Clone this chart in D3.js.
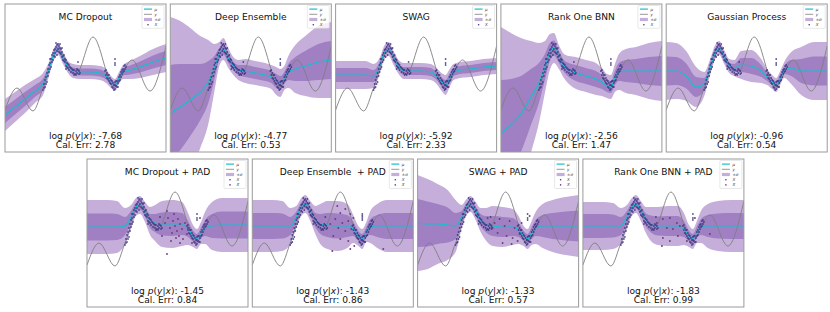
<!DOCTYPE html>
<html>
<head>
<meta charset="utf-8">
<script src="https://cdn.jsdelivr.net/npm/d3@7"></script>
<style>
  body { margin: 0; background: #fff; }
  text { font-family: "DejaVu Sans", sans-serif; white-space: pre; }
</style>
</head>
<body>
<div id="chart"></div>
<script>
'use strict';

// panel titles and metrics
const titles = ['MC Dropout', 'Deep Ensemble', 'SWAG', 'Rank One BNN', 'Gaussian Process',
  'MC Dropout + PAD', 'Deep Ensemble  + PAD', 'SWAG + PAD', 'Rank One BNN + PAD'];
const logLik = [-7.68, -4.77, -5.92, -2.56, -0.96, -1.45, -1.43, -1.33, -1.83];
const calErr = [2.78, 0.53, 2.33, 1.47, 0.54, 0.84, 0.86, 0.57, 0.99];

// true function y(x)
const trueX = [0, 1.2, 2.8, 3.8, 5.3, 7.1, 8.8, 10.9, 12.7, 14.5, 16.1];
const trueY = [-3.2, -1.0, -3.3, -1.0, 2.8, 0.4, 4.1, -0.9, 1.8, -1.3, 3.2];

// training data X
const obs = [
  [3.8,-1.2],[3.9,-0.6],[4.0,-0.9],[4.0,-0.2],[4.1,0.1],[4.2,-0.4],[4.2,0.5],[4.3,0.9],[4.4,0.6],[4.4,1.3],
  [4.5,1.5],[4.6,1.1],[4.6,1.9],[4.7,2.3],[4.8,1.8],[4.8,2.5],[4.9,2.2],[5.0,2.9],[5.0,2.5],[5.1,3.1],
  [5.2,2.7],[5.2,3.3],[5.3,2.9],[5.4,3.2],[5.4,2.6],[5.5,3.0],[5.6,2.4],[5.6,2.9],[5.7,2.6],[5.8,2.2],
  [5.8,1.8],[5.9,2.3],[6.0,1.6],[6.0,1.9],[6.1,1.2],[6.2,1.5],[6.3,1.0],[6.3,1.4],[6.4,0.8],[6.5,1.1],
  [6.6,0.6],[6.7,0.9],[6.8,0.5],[6.9,0.8],[7.0,0.4],[7.1,0.7],[7.2,0.5],[7.3,0.8],[7.4,0.4],[7.3,1.6],
  [3.9,-1.0],[4.1,-0.6],[4.3,0.2],[4.5,0.9],[4.5,1.9],[4.7,1.6],[4.9,2.8],[5.0,2.1],[5.1,3.5],[5.2,2.3],
  [5.3,3.4],[5.5,2.5],[5.5,3.4],[5.7,2.1],[5.7,3.0],[5.9,1.7],[6.1,1.8],[6.1,0.9],[6.2,1.1],[6.4,1.3],
  [6.6,1.0],[6.8,0.8],[6.9,0.3],[7.1,0.3],[7.2,0.9],[7.4,0.7],[7.5,0.5],
  [10.0,0.7],[10.1,0.3],[10.2,0.5],[10.3,-0.1],[10.3,0.3],[10.4,-0.3],[10.5,0.0],[10.6,-0.6],[10.6,-0.2],[10.7,-0.9],
  [10.8,-0.5],[10.8,-1.0],[10.9,-0.7],[11.0,-0.4],[11.0,-1.1],[11.1,-0.8],[11.2,-0.3],[11.2,-0.9],[11.3,-0.5],[11.4,0.1],
  [11.4,-0.3],[11.5,0.3],[11.6,0.1],[11.6,0.6],[11.7,0.4],[11.8,0.9],[11.8,0.6],[11.9,1.2],[12.0,0.9],[12.0,1.3],
  [10.1,0.8],[10.2,0.0],[10.4,0.3],[10.5,-0.5],[10.7,-0.3],[10.9,-1.2],[11.0,-0.7],[11.1,-0.3],[11.3,-0.9],[11.5,-0.2],
  [11.7,0.8],[11.9,0.7],[12.1,1.1],
  [11.0,1.5],[11.0,1.3],[11.0,1.9]
];

// x grid for predictive mean / std
const gridX = [0, 1.0, 2.0, 3.0, 3.8, 4.4, 4.9, 5.3, 5.8, 6.3, 6.8, 7.5, 8.5, 9.5, 10.1, 10.6, 11.0, 11.4, 11.8, 12.5, 13.5, 14.8, 16.1];

const meanMC = [-3.7,-2.9,-2.1,-1.3,-0.6,0.9,2.4,2.9,2.0,1.1,0.7,0.6,0.6,0.5,0.2,-0.4,-0.7,0.0,0.6,0.8,1.1,1.6,2.0];
const sdMC   = [0.8,0.75,0.7,0.6,0.55,0.35,0.3,0.3,0.3,0.3,0.35,0.35,0.35,0.35,0.35,0.3,0.3,0.3,0.35,0.45,0.55,0.65,0.7];
const meanDE = [-3.5,-2.9,-2.2,-1.4,-0.4,1.0,2.4,2.9,2.0,1.2,0.8,0.7,0.5,0.3,0.1,-0.3,-0.5,0.0,0.6,0.9,1.2,1.6,1.8];
const sdDE   = [4.8,4.3,3.6,2.8,2.1,1.2,0.6,0.55,0.5,0.45,0.5,0.6,0.6,0.6,0.6,0.7,0.7,0.6,0.8,1.2,1.5,1.8,1.9];
const meanSW = [0.3,0.3,0.3,0.3,0.2,1.2,2.6,2.9,2.0,1.1,0.7,0.7,0.7,0.6,0.2,-0.4,-0.7,0.0,0.6,0.8,0.9,1.1,1.2];
const sdSW   = [0.7,0.7,0.7,0.7,0.6,0.4,0.35,0.35,0.35,0.35,0.4,0.4,0.4,0.4,0.4,0.45,0.5,0.45,0.4,0.4,0.4,0.4,0.4];
const meanR1 = [-5.5,-4.7,-3.6,-1.9,-0.5,1.1,2.6,3.0,2.1,1.2,0.8,0.5,0.2,-0.1,-0.4,-0.8,-0.9,0.0,0.6,0.7,0.7,0.7,0.7];
const sdR1   = [5.3,4.6,3.8,2.8,2.0,1.3,0.9,0.75,0.6,0.6,0.7,0.8,0.8,0.8,0.7,0.6,0.6,0.7,0.9,1.1,1.2,1.4,1.5];
const meanGP = [0.7,0.7,0.2,-0.9,-0.6,1.1,2.6,3.0,2.1,1.2,1.0,1.3,1.2,0.7,0.1,-0.4,-0.7,0.0,0.8,1.0,0.7,0.7,0.7];
const sdGP   = [1.45,1.4,1.25,1.0,0.6,0.4,0.35,0.35,0.35,0.35,0.4,0.7,0.8,0.6,0.4,0.35,0.35,0.35,0.4,0.8,1.2,1.45,1.45];
const meanMCP = [0.6,0.6,0.6,0.6,0.7,1.6,2.6,2.8,2.1,1.2,1.0,0.9,0.9,0.9,0.4,-0.3,-0.6,0.0,0.5,0.7,0.8,0.8,0.8];
const sdMCP   = [1.35,1.35,1.35,1.3,0.9,0.6,0.45,0.45,0.5,0.7,0.9,1.15,1.2,1.1,0.8,0.55,0.5,0.55,0.8,1.2,1.35,1.35,1.35];
const meanDEP = [0.7,0.7,0.7,0.7,0.7,1.6,2.6,2.9,2.2,1.3,0.9,0.8,0.7,0.7,0.4,-0.3,-0.6,0.1,0.6,0.7,0.7,0.7,0.7];
const sdDEP   = [1.3,1.3,1.3,1.25,0.9,0.55,0.45,0.45,0.5,0.7,1.0,1.2,1.25,1.1,0.7,0.5,0.5,0.5,0.8,1.1,1.3,1.3,1.3];
const meanSWP = [1.0,0.9,0.9,0.8,0.7,1.6,2.6,2.9,2.2,1.3,0.9,0.7,0.6,0.6,0.3,-0.3,-0.6,0.0,0.5,0.7,0.7,0.7,0.7];
const sdSWP   = [2.4,2.25,2.0,1.75,1.3,0.6,0.4,0.4,0.45,0.6,0.8,1.0,1.0,0.9,0.7,0.5,0.5,0.6,0.8,1.1,1.3,1.45,1.55];
const meanR1P = [0.7,0.7,0.7,0.7,0.7,1.6,2.6,2.9,2.2,1.3,0.9,0.7,0.7,0.7,0.4,-0.3,-0.6,0.1,0.6,0.7,0.7,0.7,0.7];
const sdR1P   = [1.2,1.2,1.2,1.15,0.9,0.6,0.45,0.45,0.5,0.65,0.85,0.95,1.0,1.0,0.8,0.55,0.5,0.55,0.8,1.1,1.25,1.3,1.3];

// PAD augmented points X~
const augMC = [[7.8,1.0],[8.1,1.5],[8.3,0.5],[8.5,0.0],[8.6,1.2],[8.8,0.7],[9.0,0.2],[9.1,1.4],[9.2,-0.3],[9.3,0.9],
  [9.5,0.4],[9.6,-0.6],[9.8,1.0],[10.0,-0.1],[10.1,0.5],[8.4,-0.8],[8.0,2.2],[8.7,1.9],[11.3,1.5],[8.0,-2.1],
  [7.5,-0.3],[10.5,-1.0],[9.3,-1.0],[8.9,-0.5]];
const augDE = [[8.5,2.7],[8.8,2.0],[9.3,2.4],[9.8,1.9],[8.3,1.4],[9.0,1.0],[9.6,1.2],[10.1,1.5],[8.6,0.5],[9.3,0.2],
  [9.9,0.4],[8.1,-0.3],[8.8,-0.6],[9.6,-0.8],[10.5,-0.5],[8.0,-1.8],[9.8,-1.6],[13.1,-1.6],[11.0,1.7],[7.8,0.9],[10.2,-1.3]];
const augSW = [[7.0,1.5],[7.7,1.0],[8.2,1.4],[8.7,0.7],[9.2,1.2],[9.7,0.5],[8.0,0.0],[8.9,-0.3],[9.5,-0.5],[10.2,-0.1],
  [8.5,-1.0],[9.4,-1.1],[10.0,-0.8],[7.4,0.5],[10.4,1.0],[11.2,1.7]];
const augR1 = [[8.0,1.4],[8.7,1.5],[9.4,1.0],[8.4,0.5],[9.0,0.4],[9.7,0.7],[8.0,-0.5],[8.7,-0.8],[9.5,-0.3],[10.2,0.0],
  [7.9,-1.3],[12.7,-0.1],[7.4,1.0],[10.4,-0.8],[11.2,1.5]];

const means = [meanMC, meanDE, meanSW, meanR1, meanGP, meanMCP, meanDEP, meanSWP, meanR1P];
const sds = [sdMC, sdDE, sdSW, sdR1, sdGP, sdMCP, sdDEP, sdSWP, sdR1P];
const augs = [null, null, null, null, null, augMC, augDE, augSW, augR1];

const lightPurple = '#c6aedb';
const darkPurple = '#a07fc3';
const cyan = '#17becf';
const grey = '#7f7f7f';
const dotCol = '#3b3486';
const augCol = '#6e3d7c';

const W = 161, H = 148;
const x = d3.scaleLinear().domain([0, 16.1]).range([0, W]);
const y = d3.scaleLinear().domain([-7.4, 7.4]).range([H, 0]);
const fmt = v => v.toFixed(2);   // plain hyphen minus, like matplotlib text

const svg = d3.select('#chart').append('svg')
  .attr('width', 830)
  .attr('height', 312);

titles.forEach(function(title, i) {
  const bottom = i >= 5;
  const col = bottom ? i - 5 : i;
  const left = (bottom ? 87 : 5) + col * 165.3;
  const top = bottom ? 159 : 4;

  const g = svg.append('g').attr('transform', 'translate(' + left + ',' + top + ')');
  g.append('clipPath').attr('id', 'clip' + i)
    .append('rect').attr('width', W).attr('height', H);
  const plot = g.append('g').attr('clip-path', 'url(#clip' + i + ')');

  const rows = gridX.map((gx, k) => ({x: gx, m: means[i][k], s: sds[i][k]}));
  const band = k => d3.area()
    .curve(d3.curveMonotoneX)
    .x(d => x(d.x))
    .y0(d => y(d.m - k * d.s))
    .y1(d => y(d.m + k * d.s));

  // +-2 sigma, +-1 sigma
  plot.append('path').datum(rows).attr('d', band(2)).attr('fill', lightPurple);
  plot.append('path').datum(rows).attr('d', band(1)).attr('fill', darkPurple);

  // true function
  plot.append('path')
    .datum(d3.zip(trueX, trueY))
    .attr('d', d3.line().curve(d3.curveMonotoneX).x(d => x(d[0])).y(d => y(d[1])))
    .attr('fill', 'none')
    .attr('stroke', grey)
    .attr('stroke-width', 0.9);

  // predictive mean
  plot.append('path')
    .datum(rows)
    .attr('d', d3.line().curve(d3.curveMonotoneX).x(d => x(d.x)).y(d => y(d.m)))
    .attr('fill', 'none')
    .attr('stroke', cyan)
    .attr('stroke-width', 1.2);

  plot.selectAll('circle.obs')
    .data(obs)
    .enter()
    .append('circle')
    .attr('class', 'obs')
    .attr('cx', d => x(d[0]))
    .attr('cy', d => y(d[1]))
    .attr('r', 0.9)
    .attr('fill', dotCol)
    .attr('fill-opacity', 0.85);

  if (augs[i]) {
    plot.selectAll('circle.aug')
      .data(augs[i])
      .enter()
      .append('circle')
      .attr('class', 'aug')
      .attr('cx', d => x(d[0]))
      .attr('cy', d => y(d[1]))
      .attr('r', 0.95)
      .attr('fill', augCol);
  }

  // frame
  g.append('rect')
    .attr('width', W)
    .attr('height', H)
    .attr('fill', 'none')
    .attr('stroke', '#9a9a9a')
    .attr('stroke-width', 1);

  g.append('text')
    .attr('x', W / 2)
    .attr('y', 16)
    .attr('text-anchor', 'middle')
    .attr('font-size', 9.1)
    .attr('fill', '#111')
    .text(title);

  const t1 = g.append('text')
    .attr('x', W / 2)
    .attr('y', 134.5)
    .attr('text-anchor', 'middle')
    .attr('font-size', 9.1)
    .attr('fill', '#111');
  t1.append('tspan').text('log ');
  t1.append('tspan').attr('font-style', 'italic').text('p');
  t1.append('tspan').text('(');
  t1.append('tspan').attr('font-style', 'italic').text('y');
  t1.append('tspan').text('|');
  t1.append('tspan').attr('font-style', 'italic').text('x');
  t1.append('tspan').text('): ' + fmt(logLik[i]));

  g.append('text')
    .attr('x', W / 2)
    .attr('y', 144)
    .attr('text-anchor', 'middle')
    .attr('font-size', 9.1)
    .attr('fill', '#111')
    .text('Cal. Err: ' + fmt(calErr[i]));

  // legend
  const items = [
    {lab: '\u03bc', kind: 'line', col: cyan},
    {lab: 'y', kind: 'line', col: grey},
    {lab: '\u00b1\u03c3', kind: 'patch', col: lightPurple},
    {lab: 'X', kind: 'dot', col: dotCol}
  ];
  if (augs[i]) items.push({lab: 'X\u0303', kind: 'dot', col: augCol});

  const lg = g.append('g').attr('transform', 'translate(137,1.5)');
  lg.append('rect')
    .attr('width', 22)
    .attr('height', items.length * 5.2 + 2)
    .attr('rx', 1)
    .attr('fill', '#fff')
    .attr('fill-opacity', 0.8)
    .attr('stroke', '#d0d0d0')
    .attr('stroke-width', 0.5);

  items.forEach(function(it, k) {
    const cy = 3.6 + k * 5.2;
    if (it.kind === 'line') {
      lg.append('line').attr('x1', 2).attr('x2', 10).attr('y1', cy).attr('y2', cy)
        .attr('stroke', it.col).attr('stroke-width', it.col === cyan ? 1.2 : 0.8);
    } else if (it.kind === 'patch') {
      lg.append('rect').attr('x', 2).attr('y', cy - 1.6).attr('width', 8).attr('height', 3.2)
        .attr('fill', it.col);
    } else {
      lg.append('circle').attr('cx', 6).attr('cy', cy).attr('r', 0.8).attr('fill', it.col);
    }
    lg.append('text')
      .attr('x', 12.5)
      .attr('y', cy + 1.4)
      .attr('font-size', 4)
      .attr('font-style', 'italic')
      .attr('fill', '#333')
      .text(it.lab);
  });
});
</script>
</body>
</html>
